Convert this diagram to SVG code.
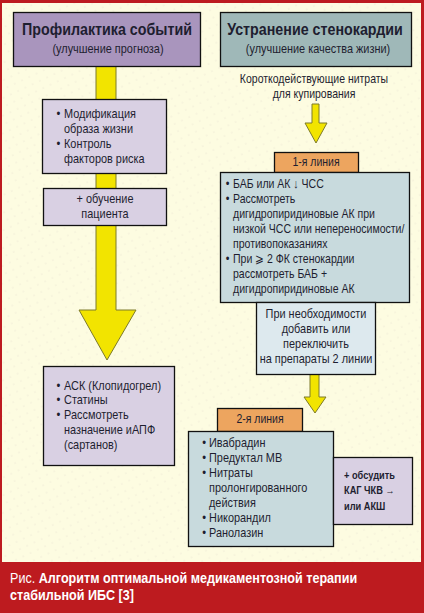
<svg xmlns="http://www.w3.org/2000/svg" width="424" height="613" viewBox="0 0 424 613">
<style>
.t{font-family:"Liberation Sans",Arial,sans-serif;font-size:13px;fill:#1e1e30}
.h{font-weight:bold;font-size:17px}
.s{font-size:13px}
.c{text-anchor:middle}
.bx{stroke:#111;stroke-width:1.3}
.lav{fill:#d9d0e3}
.hl{fill:#a995bd}
.hr{fill:#9fb8b8}
.bl{fill:#c8dadd}
.bl2{fill:#dde9ee}
.or{fill:#eda55f}
.ar{fill:#f2e400;stroke:#7d7a2a;stroke-width:1}
.cap{font-family:"Liberation Sans",Arial,sans-serif;font-size:15px;fill:#fff}
</style>
<defs>
<pattern id="dots" width="8" height="8" patternUnits="userSpaceOnUse" patternTransform="rotate(-25)">
<circle cx="2" cy="2" r="0.6" fill="#e2dccc"/>
</pattern>
</defs>
<rect x="0" y="0" width="424" height="613" fill="#bd1b1f"/>
<rect x="2" y="3" width="419" height="559" fill="#fdfce1"/>
<rect x="2" y="3" width="419" height="559" fill="url(#dots)"/>

<g id="connectors">
<polygon class="ar" points="96,66 116,66 116,310 136,310 107,360 79,310 96,310"/>
<polygon class="ar" points="312,104 319,104 319,123 327,123 316,143 305,123 312,123"/>
<polygon class="ar" points="310,374 319,374 319,397 326,397 315,413 304,397 310,397"/>
</g>

<g id="head-left">
<rect class="bx hl" x="13.5" y="12.5" width="187" height="54"/>
<text class="t h c" transform="translate(107 35) scale(.84 1)">Профилактика событий</text>
<text class="t s c" transform="translate(108 53) scale(.84 1)">(улучшение прогноза)</text>
</g>

<g id="head-right">
<rect class="bx hr" x="220.5" y="12.5" width="191" height="54"/>
<text class="t h c" transform="translate(315 35) scale(.84 1)">Устранение стенокардии</text>
<text class="t s c" transform="translate(318 53) scale(.84 1)">(улучшение качества жизни)</text>
</g>

<g id="short-nitrates">
<text class="t c" style="font-size:12.5px" transform="translate(314 83) scale(.84 1)"><tspan x="0" y="0">Короткодействующие нитраты</tspan><tspan x="0" y="15">для купирования</tspan></text>
</g>

<g id="lifestyle">
<rect class="bx lav" x="42.5" y="99.5" width="124" height="74"/>
<text class="t" transform="translate(64 118) scale(.84 1)"><tspan x="-9" y="0">•</tspan><tspan x="0" y="0">Модификация</tspan><tspan x="0" y="15">образа жизни</tspan><tspan x="-9" y="30">•</tspan><tspan x="0" y="30">Контроль</tspan><tspan x="0" y="45">факторов риска</tspan></text>
</g>

<g id="education">
<rect class="bx lav" x="43.5" y="188.5" width="123" height="37"/>
<text class="t c" transform="translate(105 203) scale(.84 1)"><tspan x="0" y="0">+ обучение</tspan><tspan x="0" y="15">пациента</tspan></text>
</g>

<g id="drugs-prognosis">
<rect class="bx lav" x="43.5" y="366.5" width="131" height="99"/>
<text class="t" transform="translate(64 390) scale(.84 1)"><tspan x="-9" y="0">•</tspan><tspan x="0" y="0">АСК (Клопидогрел)</tspan><tspan x="-9" y="14.5">•</tspan><tspan x="0" y="14.5">Статины</tspan><tspan x="-9" y="29.5">•</tspan><tspan x="0" y="29.5">Рассмотреть</tspan><tspan x="0" y="44.5">назначение иАПФ</tspan><tspan x="0" y="59.5">(сартанов)</tspan></text>
</g>

<g id="line1-label">
<rect class="bx or" x="274.5" y="152.5" width="84" height="20"/>
<text class="t c" style="font-size:12.5px" transform="translate(316 166) scale(.84 1)">1-я линия</text>
</g>

<g id="line1">
<rect class="bx bl" x="220.5" y="172.5" width="189" height="130"/>
<text class="t" transform="translate(233 188) scale(.81 1)"><tspan x="-9" y="0">•</tspan><tspan x="0" y="0">БАБ или АК ↓ ЧСС</tspan><tspan x="-9" y="15">•</tspan><tspan x="0" y="15">Рассмотреть</tspan><tspan x="0" y="30">дигидропиридиновые АК при</tspan><tspan x="0" y="45">низкой ЧСС или непереносимости/</tspan><tspan x="0" y="60">противопоказаниях</tspan><tspan x="-9" y="75">•</tspan><tspan x="0" y="75">При ⩾ 2 ФК стенокардии</tspan><tspan x="0" y="90">рассмотреть БАБ +</tspan><tspan x="0" y="105">дигидропиридиновые АК</tspan></text>
</g>

<g id="switch">
<rect class="bx bl2" x="256.5" y="302.5" width="119" height="72"/>
<text class="t c" transform="translate(316 318) scale(.84 1)"><tspan x="0" y="0">При необходимости</tspan><tspan x="0" y="15">добавить или</tspan><tspan x="0" y="30">переключить</tspan><tspan x="0" y="45">на препараты 2 линии</tspan></text>
</g>

<g id="line2-label">
<rect class="bx or" x="217.5" y="408.5" width="85" height="23"/>
<text class="t c" style="font-size:12.5px" transform="translate(260 423) scale(.84 1)">2-я линия</text>
</g>

<g id="line2">
<rect class="bx bl" x="188.5" y="431.5" width="145" height="115"/>
<text class="t" transform="translate(209 447) scale(.84 1)"><tspan x="-8" y="0">•</tspan><tspan x="0" y="0">Ивабрадин</tspan><tspan x="-8" y="15">•</tspan><tspan x="0" y="15">Предуктал МВ</tspan><tspan x="-8" y="30">•</tspan><tspan x="0" y="30">Нитраты</tspan><tspan x="0" y="45">пролонгированного</tspan><tspan x="0" y="60">действия</tspan><tspan x="-8" y="75">•</tspan><tspan x="0" y="75">Никорандил</tspan><tspan x="-8" y="90">•</tspan><tspan x="0" y="90">Ранолазин</tspan></text>
</g>

<g id="revasc">
<rect class="bx lav" x="333.5" y="457.5" width="79" height="67"/>
<text class="t" style="font-size:11px;font-weight:bold" transform="translate(344 479) scale(.84 1)"><tspan x="0" y="0">+ обсудить</tspan><tspan x="0" y="15.5">КАГ ЧКВ →</tspan><tspan x="0" y="31">или АКШ</tspan></text>
</g>

<g id="caption">
<text class="cap" transform="translate(10 583) scale(.84 1)"><tspan x="0" y="0">Рис. </tspan><tspan font-weight="bold">Алгоритм оптимальной медикаментозной терапии</tspan><tspan x="0" y="17" font-weight="bold">стабильной ИБС [3]</tspan></text>
</g>
</svg>
